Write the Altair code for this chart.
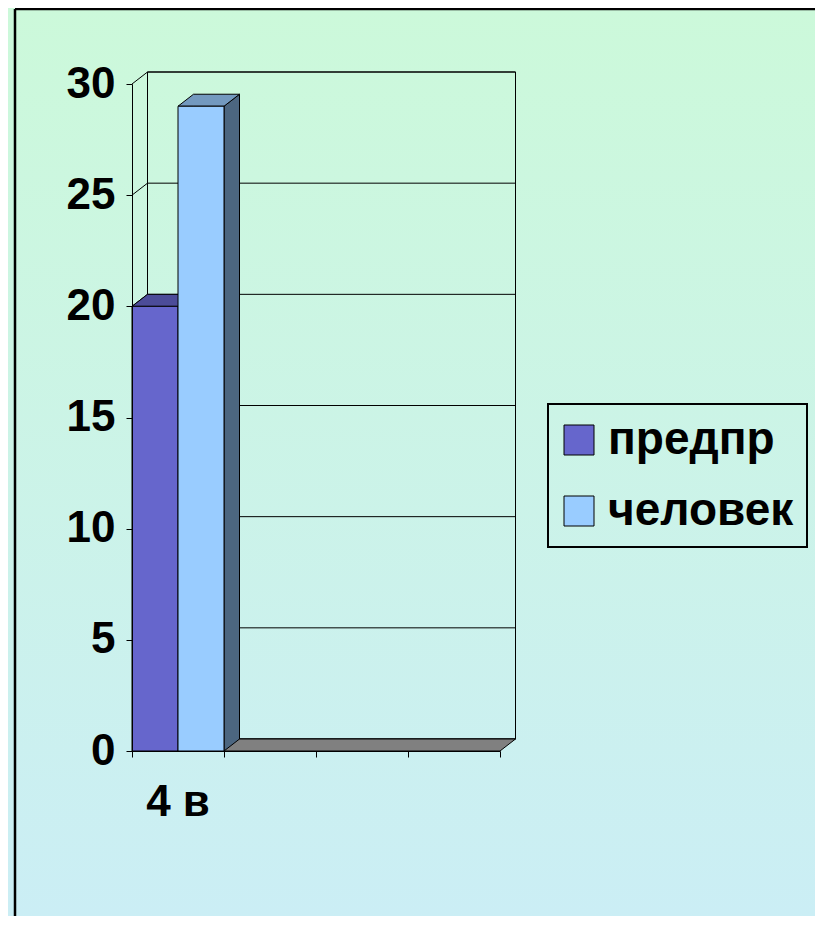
import altair as alt
import pandas as pd

# ---- data ----
categories = ["4 в", "", "", ""]
series = ["предпр", "человек"]
values = [20, 29]
y_ticks = [0, 5, 10, 15, 20, 25, 30]

front_colors = ["#6666CC", "#99CCFF"]
top_colors = ["#4C4C99", "#7399BF"]
side_colors = ["#333366", "#4C6680"]

# ---- layout / style ----
W, H = 368, 667
PAD = {"left": 124, "top": 76, "right": 315, "bottom": 165}
NCAT = len(categories)
YMAX = y_ticks[-1]
DEPTH_X_PX, DEPTH_Y_PX = 15.5, 12.0
DX = DEPTH_X_PX * NCAT / W          # depth in x data units
DY = DEPTH_Y_PX * YMAX / H          # depth in y data units
FONT = "Liberation Sans"

ns = len(series)
front_rows, side_rows, top_rows = [], [], []
for i, (s, v) in enumerate(zip(series, values)):
    x0 = 0 + i / ns
    x1 = (i + 1) / ns
    front_rows.append({"series": s, "x0": x0, "x1": x1, "v": v, "base": 0})
    side_rows += [
        {"series": s, "fill": side_colors[i], "x": x1, "y": v, "y2": 0},
        {"series": s, "fill": side_colors[i], "x": x1 + DX, "y": v + DY, "y2": DY},
    ]
    top_rows += [
        {"series": s, "fill": top_colors[i], "x": x0, "y": v, "y2": v},
        {"series": s, "fill": top_colors[i], "x": x0 + DX, "y": v + DY, "y2": v},
        {"series": s, "fill": top_colors[i], "x": x1, "y": v + DY, "y2": v},
        {"series": s, "fill": top_colors[i], "x": x1 + DX, "y": v + DY, "y2": v + DY},
    ]
front_df = pd.DataFrame(front_rows)
side_df = pd.DataFrame(side_rows)
top_df = pd.DataFrame(top_rows)

floor_df = pd.DataFrame([
    {"x": 0, "y": 0, "y2": 0},
    {"x": DX, "y": DY, "y2": 0},
    {"x": NCAT, "y": DY, "y2": 0},
    {"x": NCAT + DX, "y": DY, "y2": DY},
])
wall_df = pd.DataFrame([{"x": DX, "x2": NCAT + DX, "y": DY, "y2": YMAX + DY}])
grid_df = pd.DataFrame({"v": y_ticks})
grid_df["yb"] = grid_df["v"] + DY
grid_df["xb"] = DX
grid_df["xe"] = NCAT + DX
grid_df["x0"] = 0
cat_df = pd.DataFrame({"label": categories, "xc": [i + 0.5 for i in range(NCAT)]})
one = pd.DataFrame({"a": [0]})

xs = alt.Scale(domain=[0, NCAT], nice=False, zero=False)
ys = alt.Scale(domain=[0, YMAX], nice=False, zero=False)

x_axis = alt.Axis(values=list(range(NCAT + 1)), labels=False, tickSize=6, tickColor="black",
                  domainColor="black", grid=False, title=None, labelFlush=False, zindex=1)
y_axis = alt.Axis(values=y_ticks, tickSize=6, tickColor="black", domainColor="black",
                  labelFont=FONT, labelFontSize=44, labelFontWeight="bold", labelColor="black",
                  labelPadding=11, grid=False, title=None, labelFlush=False, zindex=1)


def X(field):
    return alt.X(field, scale=xs, axis=x_axis)


def Y(field):
    return alt.Y(field, scale=ys, axis=y_axis)


background = alt.Chart(one).mark_rect(
    color={"gradient": "linear", "x1": 0, "y1": 0, "x2": 0, "y2": 1,
           "stops": [{"offset": 0, "color": "#CCF9DA"}, {"offset": 1, "color": "#CBEEF5"}]}
).encode(x=alt.value(-PAD["left"]), x2=alt.value(W + PAD["right"]),
         y=alt.value(-PAD["top"]), y2=alt.value(H + PAD["bottom"]))

# outer frame: only the top and left edges fall inside the picture
FRAME_X, FRAME_Y = 15 - 8 - PAD["left"], 9 - 8 - PAD["top"]
frame_top = alt.Chart(one).mark_rule(color="black", strokeWidth=2.5).encode(
    x=alt.value(FRAME_X), x2=alt.value(W + PAD["right"]), y=alt.value(FRAME_Y))
frame_left = alt.Chart(one).mark_rule(color="black", strokeWidth=2.5).encode(
    x=alt.value(FRAME_X), y=alt.value(FRAME_Y), y2=alt.value(H + PAD["bottom"]))

wall = alt.Chart(wall_df).mark_rect(fillOpacity=0, stroke="black", strokeWidth=1).encode(
    x=X("x:Q"), x2="x2:Q", y=Y("y:Q"), y2="y2:Q")

back_grid = alt.Chart(grid_df).mark_rule(color="black", strokeWidth=1).encode(
    x=X("xb:Q"), x2="xe:Q", y=Y("yb:Q"))

side_grid = alt.Chart(grid_df).mark_rule(color="black", strokeWidth=1).encode(
    x=X("x0:Q"), x2="xb:Q", y=Y("v:Q"), y2="yb:Q")

floor = alt.Chart(floor_df).mark_area(fill="#808080", stroke="black", strokeWidth=1).encode(
    x=X("x:Q"), y=Y("y:Q"), y2="y2:Q")

sides = alt.Chart(side_df).mark_area(stroke="black", strokeWidth=1).encode(
    x=X("x:Q"), y=Y("y:Q"), y2="y2:Q",
    fill=alt.Fill("fill:N", scale=None), detail="series:N")

tops = alt.Chart(top_df).mark_area(stroke="black", strokeWidth=1).encode(
    x=X("x:Q"), y=Y("y:Q"), y2="y2:Q",
    fill=alt.Fill("fill:N", scale=None), detail="series:N")

fronts = alt.Chart(front_df).mark_rect(stroke="black", strokeWidth=1, opacity=1).encode(
    x=X("x0:Q"), x2="x1:Q", y=Y("v:Q"), y2="base:Q",
    color=alt.Color("series:N", scale=alt.Scale(domain=series, range=front_colors),
                    sort=series,
                    legend=alt.Legend(orient="none", legendX=416, legendY=320, title=None,
                                      symbolType="square", symbolSize=900,
                                      symbolStrokeColor="black", symbolStrokeWidth=1,
                                      symbolOpacity=1, symbolOffset=-5,
                                      labelFont=FONT, labelFontSize=46, labelFontWeight="bold",
                                      labelColor="black", labelOffset=6, rowPadding=25,
                                      labelLimit=400,
                                      padding=13, strokeColor="black")))

cat_labels = alt.Chart(cat_df).mark_text(font=FONT, fontSize=44, fontWeight="bold",
                                         color="black", baseline="middle", align="center").encode(
    x=X("xc:Q"), y=alt.value(H + 52), text="label:N")

chart = alt.layer(background, frame_top, frame_left, wall, back_grid, side_grid, floor, sides,
                  tops, fronts, cat_labels).properties(
    width=W, height=H, padding=PAD,
    autosize=alt.AutoSizeParams(type="none"),
).configure_view(stroke=None).configure(background="#CBF2E8").configure_legend(strokeWidth=2)

chart.save("out.html", embed_options={"renderer": "svg", "actions": False})
